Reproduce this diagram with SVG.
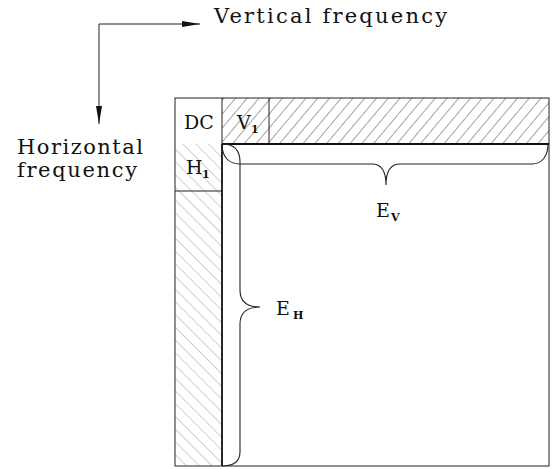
<svg xmlns="http://www.w3.org/2000/svg" width="552" height="469" viewBox="0 0 552 469">
<style>
.lbl{font-family:"DejaVu Serif","Liberation Serif",serif;fill:#111}
.axis{font-size:21px}
.cell{font-size:19px}
.sub{font-size:11px;font-weight:bold}
.thin{fill:none;stroke:#222;stroke-width:1}
.thick{fill:none;stroke:#111;stroke-width:1.8}
.brace{fill:none;stroke:#222;stroke-width:1.1}
</style>
<defs>
<pattern id="fwd" patternUnits="userSpaceOnUse" width="9" height="9" patternTransform="rotate(40)">
<line x1="0" y1="0" x2="0" y2="9" stroke="#333" stroke-width="0.9"/>
</pattern>
<pattern id="bwd" patternUnits="userSpaceOnUse" width="9" height="9" patternTransform="rotate(-45)">
<line x1="0" y1="0" x2="0" y2="9" stroke="#888" stroke-width="0.8"/>
</pattern>
<marker id="arr" markerUnits="userSpaceOnUse" markerWidth="19" markerHeight="7" refX="18" refY="3" orient="auto">
<path d="M0,0 L18,3 L0,6 z" fill="#111"/>
</marker>
</defs>

<g id="connectors">
<path class="thin" d="M99,24 H200" marker-end="url(#arr)"/>
<path class="thin" d="M99,24 V124" marker-end="url(#arr)"/>
</g>

<g id="axis-vertical">
<text class="lbl axis" x="214" y="23" textLength="233" lengthAdjust="spacing">Vertical frequency</text>
</g>
<g id="axis-horizontal">
<text class="lbl axis" x="17" y="154" textLength="126" lengthAdjust="spacing">Horizontal</text>
<text class="lbl axis" x="17" y="177" textLength="120" lengthAdjust="spacing">frequency</text>
</g>

<g id="matrix">
<rect x="222" y="98" width="327" height="46" fill="url(#fwd)"/>
<rect x="175" y="144" width="47" height="322" fill="url(#bwd)"/>
<rect x="175" y="98" width="374" height="368" class="thin"/>
<line x1="222" y1="98" x2="222" y2="144" class="thin"/>
<line x1="269" y1="98" x2="269" y2="144" class="thin"/>
<line x1="175" y1="191" x2="222" y2="191" class="thin"/>
<line x1="222" y1="144" x2="549" y2="144" class="thick"/>
<line x1="222" y1="144" x2="222" y2="466" class="thick"/>
</g>

<g id="dc">
<text class="lbl cell" x="184" y="129">DC</text>
</g>
<g id="v1">
<text class="lbl cell" x="237" y="129">V</text><text class="lbl sub" x="251" y="133">1</text>
</g>
<g id="h1">
<text class="lbl cell" x="186" y="174">H</text><text class="lbl sub" x="202" y="178">1</text>
</g>

<g id="ev">
<path class="brace" d="M222,144 C222,156 228,164 240,164 L372,164 C381,164 386,171 386,185 C386,171 391,164 400,164 L532,164 C542,164 548,156 548,144"/>
<text class="lbl cell" x="376" y="217">E</text><text class="lbl sub" x="391" y="221">V</text>
</g>
<g id="eh">
<path class="brace" d="M222,144 C234,144 240,150 240,162 L240,290 C240,301 246,307 260,307 C246,307 240,313 240,324 L240,452 C240,462 234,466 222,466"/>
<text class="lbl cell" x="276" y="315">E</text><text class="lbl sub" x="293" y="319">H</text>
</g>
</svg>
